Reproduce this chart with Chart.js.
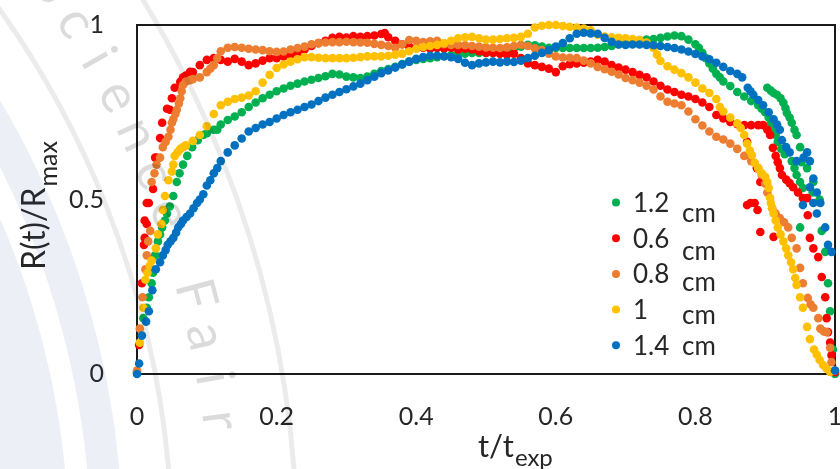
<!DOCTYPE html>
<html>
<head>
<meta charset="utf-8">
<script src="https://cdn.jsdelivr.net/npm/chart.js@4.4.0/dist/chart.umd.min.js"></script>
<style>
  html, body { margin: 0; padding: 0; background: #fff; }
  canvas { display: block; }
</style>
</head>
<body>
<canvas id="meuGrafico" width="840" height="469"></canvas>
<script>
// rótulos e cores das séries (ordem da legenda)
const rotulos = ["1.2 cm", "0.6 cm", "0.8 cm", "1 cm", "1.4 cm"];
const cores = ["#00b050", "#ff0000", "#ed7d31", "#ffc000", "#0070c0"];

const ticksX = [0, 0.2, 0.4, 0.6, 0.8, 1];
const ticksY = [0, 0.5, 1];

// pontos [t/texp, R/Rmax]
const serie12 = [
  [0,0.005],[0.009,0.16],[0.014,0.19],[0.017,0.22],[0.021,0.26],[0.023,0.29],[0.026,0.34],[0.03,0.38],[0.033,0.40],[0.036,0.42],
  [0.04,0.44],[0.043,0.46],[0.047,0.48],[0.052,0.51],[0.057,0.55],[0.061,0.575],[0.066,0.60],[0.072,0.625],[0.079,0.65],[0.087,0.67],
  [0.095,0.685],[0.10,0.69],[0.11,0.70],[0.115,0.70],[0.12,0.715],[0.13,0.728],[0.14,0.738],[0.15,0.75],[0.16,0.765],[0.17,0.778],
  [0.18,0.79],[0.19,0.80],[0.20,0.81],[0.21,0.818],[0.22,0.826],[0.23,0.832],[0.24,0.838],[0.25,0.843],[0.26,0.848],[0.27,0.853],
  [0.28,0.86],[0.29,0.858],[0.30,0.852],[0.31,0.85],[0.32,0.848],[0.33,0.852],[0.34,0.86],[0.35,0.868],[0.36,0.874],[0.37,0.88],
  [0.38,0.888],[0.39,0.895],[0.40,0.90],[0.41,0.903],[0.42,0.905],[0.43,0.908],[0.44,0.911],[0.45,0.914],[0.46,0.916],[0.47,0.918],
  [0.48,0.92],[0.49,0.92],[0.50,0.92],[0.51,0.92],[0.52,0.92],[0.53,0.925],[0.54,0.932],[0.55,0.938],[0.56,0.943],[0.57,0.942],
  [0.58,0.938],[0.59,0.935],[0.60,0.934],[0.61,0.934],[0.62,0.934],[0.63,0.934],[0.64,0.934],[0.65,0.934],[0.66,0.935],[0.67,0.937],
  [0.68,0.94],[0.69,0.945],[0.70,0.95],[0.71,0.954],[0.72,0.957],[0.73,0.958],[0.74,0.96],[0.75,0.963],[0.76,0.967],[0.77,0.97],
  [0.78,0.968],[0.79,0.958],[0.80,0.945],[0.805,0.935],[0.81,0.92],[0.815,0.905],[0.82,0.89],[0.825,0.875],[0.83,0.86],[0.835,0.85],
  [0.84,0.838],[0.85,0.825],[0.86,0.808],[0.87,0.795],[0.88,0.782],[0.89,0.77],[0.895,0.76],[0.90,0.75],[0.905,0.735],[0.908,0.72],
  [0.911,0.705],[0.915,0.685],[0.918,0.665],[0.923,0.645],[0.928,0.63],[0.938,0.61],[0.942,0.59],[0.945,0.57],[0.95,0.55],[0.954,0.533],
  [0.968,0.52],[0.978,0.50],
  [0.903,0.82],[0.908,0.812],[0.912,0.805],[0.917,0.80],[0.922,0.79],[0.926,0.777],[0.929,0.762],[0.931,0.748],[0.935,0.735],[0.938,0.72],
  [0.942,0.70],[0.945,0.685],[0.95,0.65],[0.952,0.607],[0.96,0.59],[0.969,0.55],
  [0.95,0.42],[0.981,0.41],[0.986,0.35],[0.99,0.26],[0.993,0.18],[0.997,0.07],[1,0]
];

const serie06 = [
  [0.003,0.083],[0.007,0.26],[0.01,0.37],[0.011,0.39],[0.011,0.44],[0.014,0.43],[0.014,0.49],[0.017,0.49],[0.023,0.53],[0.026,0.62],
  [0.028,0.62],[0.033,0.676],[0.036,0.72],[0.043,0.76],[0.047,0.757],[0.05,0.79],[0.054,0.82],[0.062,0.837],[0.066,0.85],
  [0.07,0.855],[0.076,0.866],[0.08,0.865],[0.09,0.885],[0.10,0.90],[0.11,0.905],[0.12,0.90],[0.13,0.895],[0.14,0.903],[0.15,0.895],
  [0.16,0.885],[0.17,0.89],[0.18,0.898],[0.19,0.905],[0.20,0.905],[0.21,0.91],[0.22,0.915],[0.23,0.92],[0.24,0.93],[0.25,0.94],
  [0.26,0.948],[0.27,0.955],[0.28,0.963],[0.29,0.966],[0.30,0.964],[0.31,0.968],[0.32,0.966],[0.33,0.968],[0.34,0.97],[0.35,0.974],
  [0.355,0.977],[0.36,0.965],[0.37,0.955],[0.38,0.945],[0.39,0.938],[0.40,0.934],[0.41,0.935],[0.42,0.932],[0.43,0.934],[0.44,0.933],
  [0.45,0.935],[0.46,0.93],[0.47,0.932],[0.48,0.93],[0.49,0.925],[0.50,0.92],[0.51,0.92],[0.52,0.918],[0.53,0.915],[0.54,0.918],
  [0.55,0.905],[0.56,0.89],[0.57,0.885],[0.58,0.88],[0.59,0.875],[0.60,0.865],[0.61,0.882],[0.62,0.888],[0.63,0.89],[0.64,0.892],
  [0.65,0.895],[0.66,0.90],[0.67,0.895],[0.68,0.885],[0.69,0.878],[0.70,0.872],[0.71,0.865],[0.72,0.857],[0.73,0.85],[0.74,0.838],
  [0.75,0.826],[0.76,0.815],[0.77,0.808],[0.78,0.80],[0.79,0.795],[0.80,0.788],[0.81,0.778],[0.82,0.765],[0.83,0.742],[0.84,0.732],
  [0.85,0.722],[0.86,0.716],[0.87,0.713],[0.88,0.713],[0.89,0.713],[0.897,0.713],[0.903,0.70],[0.907,0.685],[0.911,0.648],[0.915,0.625],
  [0.918,0.607],[0.921,0.59],[0.924,0.57],[0.93,0.557],[0.935,0.547],[0.94,0.535],[0.947,0.52],[0.954,0.504],[0.96,0.504],
  [0.874,0.665],[0.878,0.627],[0.888,0.59],[0.893,0.55],[0.874,0.484],[0.879,0.49],[0.885,0.49],[0.889,0.47],[0.893,0.407],[0.912,0.393],
  [0.961,0.455],[0.964,0.39],[0.969,0.36],[0.976,0.335],[0.981,0.278],[0.986,0.22],[0.988,0.16],[0.99,0.12],[0.993,0.09],[0.995,0.054],
  [1,0.005]
];

const serie08 = [
  [0,0.01],[0.004,0.13],[0.008,0.22],[0.012,0.30],[0.014,0.34],[0.016,0.38],[0.019,0.41],[0.021,0.55],[0.025,0.575],[0.028,0.60],
  [0.033,0.62],[0.037,0.65],[0.041,0.665],[0.045,0.68],[0.048,0.70],[0.05,0.72],[0.052,0.73],[0.055,0.745],[0.057,0.757],[0.06,0.775],
  [0.062,0.79],[0.064,0.81],[0.066,0.828],[0.07,0.838],[0.076,0.842],[0.08,0.845],[0.09,0.85],[0.10,0.865],[0.105,0.875],[0.11,0.885],
  [0.115,0.905],[0.12,0.925],[0.13,0.935],[0.14,0.937],[0.15,0.935],[0.16,0.932],[0.17,0.93],[0.18,0.928],[0.19,0.925],[0.20,0.923],
  [0.21,0.924],[0.22,0.93],[0.23,0.934],[0.24,0.938],[0.25,0.945],[0.26,0.948],[0.27,0.95],[0.28,0.951],[0.29,0.951],[0.30,0.952],
  [0.31,0.951],[0.32,0.95],[0.33,0.949],[0.34,0.946],[0.35,0.943],[0.36,0.94],[0.37,0.935],[0.38,0.945],[0.39,0.957],[0.40,0.955],
  [0.41,0.951],[0.42,0.953],[0.43,0.955],[0.44,0.945],[0.45,0.943],[0.46,0.943],[0.47,0.942],[0.48,0.94],[0.49,0.938],[0.50,0.936],
  [0.51,0.935],[0.52,0.934],[0.53,0.936],[0.54,0.94],[0.55,0.943],[0.56,0.94],[0.57,0.933],[0.58,0.928],[0.59,0.918],[0.60,0.91],
  [0.61,0.907],[0.62,0.906],[0.63,0.905],[0.64,0.898],[0.65,0.89],[0.66,0.88],[0.67,0.873],[0.68,0.866],[0.69,0.858],[0.70,0.848],
  [0.71,0.842],[0.72,0.835],[0.73,0.826],[0.74,0.815],[0.75,0.795],[0.76,0.78],[0.77,0.775],[0.78,0.77],[0.79,0.752],[0.80,0.73],
  [0.81,0.712],[0.82,0.695],[0.83,0.68],[0.84,0.672],[0.85,0.66],[0.86,0.645],[0.87,0.625],[0.88,0.61],[0.89,0.59],[0.895,0.57],
  [0.90,0.545],[0.903,0.52],[0.91,0.475],[0.915,0.46],[0.921,0.447],[0.927,0.435],[0.933,0.42],[0.938,0.39],[0.945,0.36],[0.95,0.304],
  [0.954,0.26],[0.961,0.218],[0.965,0.20],[0.969,0.19],[0.976,0.16],[0.979,0.13],[0.984,0.122],[0.988,0.12],[0.993,0.075],[0.995,0.034],
  [1,0.01]
];

const serie10 = [
  [0.004,0.09],[0.009,0.19],[0.012,0.27],[0.015,0.29],[0.018,0.31],[0.021,0.325],[0.027,0.36],[0.03,0.40],[0.035,0.43],[0.037,0.47],
  [0.04,0.51],[0.045,0.555],[0.05,0.58],[0.052,0.60],[0.054,0.625],[0.058,0.635],[0.062,0.645],[0.066,0.65],[0.07,0.655],[0.08,0.668],
  [0.09,0.685],[0.10,0.71],[0.11,0.745],[0.12,0.77],[0.13,0.78],[0.14,0.788],[0.15,0.792],[0.16,0.798],[0.17,0.81],[0.18,0.835],
  [0.19,0.857],[0.20,0.877],[0.21,0.887],[0.22,0.895],[0.23,0.902],[0.24,0.908],[0.25,0.908],[0.26,0.906],[0.27,0.905],[0.28,0.905],
  [0.29,0.905],[0.30,0.905],[0.31,0.906],[0.32,0.908],[0.33,0.91],[0.34,0.91],[0.35,0.91],[0.36,0.912],[0.37,0.915],[0.38,0.918],
  [0.39,0.925],[0.40,0.932],[0.41,0.937],[0.42,0.94],[0.43,0.943],[0.44,0.948],[0.45,0.955],[0.46,0.962],[0.47,0.965],[0.48,0.966],
  [0.49,0.962],[0.50,0.958],[0.51,0.958],[0.52,0.96],[0.53,0.962],[0.54,0.963],[0.55,0.966],[0.56,0.975],[0.57,0.993],[0.58,0.998],
  [0.59,1.0],[0.60,1.0],[0.61,0.997],[0.62,0.995],[0.63,0.993],[0.64,0.99],[0.65,0.985],[0.66,0.972],[0.67,0.967],[0.68,0.965],
  [0.69,0.963],[0.70,0.962],[0.71,0.96],[0.72,0.957],[0.73,0.95],[0.74,0.934],[0.745,0.915],[0.75,0.897],[0.76,0.882],[0.77,0.872],
  [0.78,0.862],[0.79,0.85],[0.80,0.835],[0.81,0.818],[0.82,0.805],[0.83,0.788],[0.835,0.765],[0.84,0.752],[0.85,0.735],[0.86,0.718],
  [0.865,0.705],[0.87,0.685],[0.874,0.66],[0.878,0.64],[0.881,0.627],[0.885,0.605],[0.89,0.59],[0.895,0.575],[0.90,0.565],[0.903,0.55],
  [0.905,0.533],[0.907,0.505],[0.908,0.49],[0.91,0.475],[0.912,0.46],[0.915,0.44],[0.918,0.42],[0.922,0.40],[0.926,0.38],[0.93,0.36],
  [0.933,0.34],[0.937,0.32],[0.94,0.30],[0.943,0.275],[0.945,0.255],[0.95,0.22],[0.954,0.19],[0.96,0.135],[0.964,0.10],[0.97,0.07],
  [0.974,0.055],[0.978,0.04],[0.983,0.026],[0.988,0.015],[0.993,0.006]
];

const serie14 = [
  [0,0],[0.003,0.03],[0.007,0.11],[0.013,0.15],[0.017,0.18],[0.022,0.24],[0.027,0.30],[0.033,0.32],[0.037,0.34],[0.041,0.355],
  [0.044,0.37],[0.048,0.38],[0.052,0.39],[0.056,0.405],[0.059,0.42],[0.063,0.43],[0.066,0.44],[0.071,0.45],[0.076,0.46],[0.081,0.475],
  [0.086,0.49],[0.09,0.50],[0.095,0.515],[0.10,0.54],[0.105,0.555],[0.11,0.575],[0.115,0.59],[0.12,0.61],[0.13,0.635],[0.14,0.655],
  [0.15,0.675],[0.16,0.695],[0.17,0.705],[0.18,0.715],[0.19,0.722],[0.20,0.732],[0.21,0.742],[0.22,0.75],[0.23,0.757],[0.24,0.765],
  [0.25,0.772],[0.26,0.782],[0.27,0.792],[0.28,0.80],[0.29,0.808],[0.30,0.816],[0.31,0.824],[0.32,0.832],[0.33,0.842],[0.34,0.852],
  [0.35,0.862],[0.36,0.87],[0.37,0.878],[0.38,0.887],[0.39,0.895],[0.40,0.903],[0.41,0.908],[0.42,0.912],[0.43,0.912],[0.44,0.91],
  [0.45,0.908],[0.46,0.903],[0.47,0.892],[0.48,0.885],[0.49,0.89],[0.50,0.893],[0.51,0.895],[0.52,0.893],[0.53,0.895],[0.54,0.894],
  [0.55,0.898],[0.56,0.905],[0.57,0.912],[0.58,0.92],[0.59,0.928],[0.60,0.938],[0.61,0.948],[0.62,0.962],[0.63,0.975],[0.64,0.978],
  [0.65,0.976],[0.66,0.975],[0.67,0.963],[0.68,0.952],[0.69,0.944],[0.70,0.943],[0.71,0.944],[0.72,0.944],[0.73,0.943],[0.74,0.942],
  [0.75,0.94],[0.76,0.937],[0.77,0.934],[0.78,0.93],[0.79,0.924],[0.80,0.917],[0.81,0.91],[0.82,0.902],[0.83,0.892],[0.84,0.88],
  [0.85,0.868],[0.86,0.86],[0.867,0.85],[0.875,0.82],[0.879,0.81],[0.883,0.80],[0.89,0.785],[0.897,0.77],[0.905,0.75],[0.912,0.73],
  [0.917,0.715],[0.921,0.70],[0.924,0.67],[0.93,0.65],[0.935,0.635],[0.945,0.61],[0.955,0.62],[0.96,0.635],[0.964,0.61],[0.969,0.56],
  [0.964,0.535],[0.974,0.52],[0.979,0.49],[0.954,0.484],[0.969,0.49],[0.974,0.46],[0.986,0.42],[0.99,0.37],[0.995,0.35],[1,0.01]
];

const series = [serie12, serie06, serie08, serie10, serie14];
const ordemDesenho = [5, 4, 3, 2, 1]; // 1.4 cm por cima
const deslocCm = [10, 12, 8, 5, 0];  // "cm" quebrado abaixo do número, como no original

const corTexto = "#262626";
const fonte = "Lato";

// moldura da área do gráfico + rótulos do eixo y
const moldura = {
  id: "moldura",
  beforeDatasetsDraw(chart) {
    const { ctx, chartArea: a } = chart;
    ctx.save();
    ctx.strokeStyle = "#1a1a1a";
    ctx.lineWidth = 2;
    ctx.strokeRect(a.left, a.top, a.right - a.left, a.bottom - a.top);
    const escalaY = chart.scales.y;
    ctx.fillStyle = corTexto;
    ctx.font = "25px " + fonte;
    ctx.textAlign = "right";
    ctx.textBaseline = "middle";
    ticksY.forEach(v => ctx.fillText(String(v), 104, escalaY.getPixelForValue(v)));
    ctx.restore();
  }
};

// legenda dentro do gráfico
const legenda = {
  id: "legenda",
  afterDatasetsDraw(chart) {
    const ctx = chart.ctx;
    ctx.save();
    chart.data.datasets.forEach((ds, i) => {
      const y = 212 + i * 35.7;
      ctx.fillStyle = ds.backgroundColor;
      ctx.beginPath();
      ctx.arc(616, y - 9.5, 4, 0, Math.PI * 2);
      ctx.fill();
      const partes = ds.label.split(" ");
      ctx.fillStyle = corTexto;
      ctx.font = "26px " + fonte;
      ctx.textBaseline = "alphabetic";
      ctx.fillText(partes[0], 633, y);
      ctx.fillText(partes[1], 682, y + deslocCm[i]);
    });
    ctx.restore();
  }
};

// títulos dos eixos com subscrito
const titulos = {
  id: "titulos",
  afterDraw(chart) {
    const ctx = chart.ctx;
    ctx.save();
    ctx.fillStyle = corTexto;
    ctx.textBaseline = "alphabetic";
    ctx.font = "31px " + fonte;
    ctx.fillText("t/t", 478, 457);
    let w = ctx.measureText("t/t").width;
    ctx.font = "24px " + fonte;
    ctx.fillText("exp", 479 + w, 466);

    ctx.translate(45, 270);
    ctx.rotate(-Math.PI / 2);
    ctx.font = "32px " + fonte;
    ctx.fillText("R(t)/R", 0, 0);
    w = ctx.measureText("R(t)/R").width;
    ctx.font = "25px " + fonte;
    ctx.fillText("max", w + 1, 12);
    ctx.restore();
  }
};

// marca d'água clara do fundo
const marcaDagua = {
  id: "marcaDagua",
  afterDraw(chart) {
    const ctx = chart.ctx;
    const cx = -761, cy = 550;
    ctx.save();
    ctx.fillStyle = "rgba(40,80,160,0.09)";
    ctx.beginPath();
    ctx.arc(cx, cy, 830, 0, Math.PI * 2);
    ctx.fill();
    ctx.beginPath();
    ctx.arc(cx, cy, 884, 0, Math.PI * 2);
    ctx.arc(cx, cy, 852, 0, Math.PI * 2, true);
    ctx.fill();
    ctx.strokeStyle = "rgba(0,0,0,0.08)";
    ctx.lineWidth = 5;
    [933, 1058].forEach(r => {
      ctx.beginPath();
      ctx.arc(cx, cy, r, -Math.PI / 2, 0.3);
      ctx.stroke();
    });
    ctx.fillStyle = "rgba(0,0,0,0.14)";
    ctx.font = "54px " + fonte;
    ctx.textAlign = "center";
    ctx.textBaseline = "middle";
    const letras = "Science Fair";
    for (let i = 0; i < letras.length; i++) {
      const ang = (-34.7 + i * 2.47) * Math.PI / 180;
      ctx.save();
      ctx.translate(cx + 990 * Math.cos(ang), cy + 990 * Math.sin(ang));
      ctx.rotate(ang + Math.PI / 2);
      ctx.fillText(letras[i], 0, 0);
      ctx.restore();
    }
    ctx.restore();
  }
};

function desenharGrafico() {
  const ctx = document.getElementById("meuGrafico").getContext("2d");
  new Chart(ctx, {
    type: "scatter",
    data: {
      datasets: series.map((s, i) => ({
        label: rotulos[i],
        data: s.map(p => ({ x: p[0], y: p[1] })),
        backgroundColor: cores[i],
        borderColor: cores[i],
        borderWidth: 0,
        pointRadius: 4.3,
        pointHoverRadius: 4.3,
        order: ordemDesenho[i],
        clip: false
      }))
    },
    options: {
      responsive: false,
      animation: false,
      devicePixelRatio: 1,
      layout: { autoPadding: false, padding: { top: 25, right: 5, left: 0, bottom: 0 } },
      plugins: { legend: { display: false }, tooltip: { enabled: false } },
      scales: {
        x: {
          type: "linear", min: 0, max: 1,
          afterBuildTicks: s => { s.ticks = ticksX.map(v => ({ value: v })); },
          afterFit: s => { s.height = 95; s.paddingLeft = 0; s.paddingRight = 0; },
          grid: { display: false, drawTicks: false },
          border: { display: false },
          ticks: { color: corTexto, font: { family: fonte, size: 25 }, padding: 28, maxRotation: 0, callback: v => String(v) }
        },
        y: {
          type: "linear", min: 0, max: 1,
          afterBuildTicks: s => { s.ticks = ticksY.map(v => ({ value: v })); },
          afterFit: s => { s.width = 137; s.paddingTop = 0; s.paddingBottom = 0; },
          grid: { display: false, drawTicks: false },
          border: { display: false },
          ticks: { display: false }
        }
      }
    },
    plugins: [moldura, legenda, titulos, marcaDagua]
  });
}

document.fonts.load("25px " + fonte).then(desenharGrafico, desenharGrafico);
</script>
</body>
</html>
